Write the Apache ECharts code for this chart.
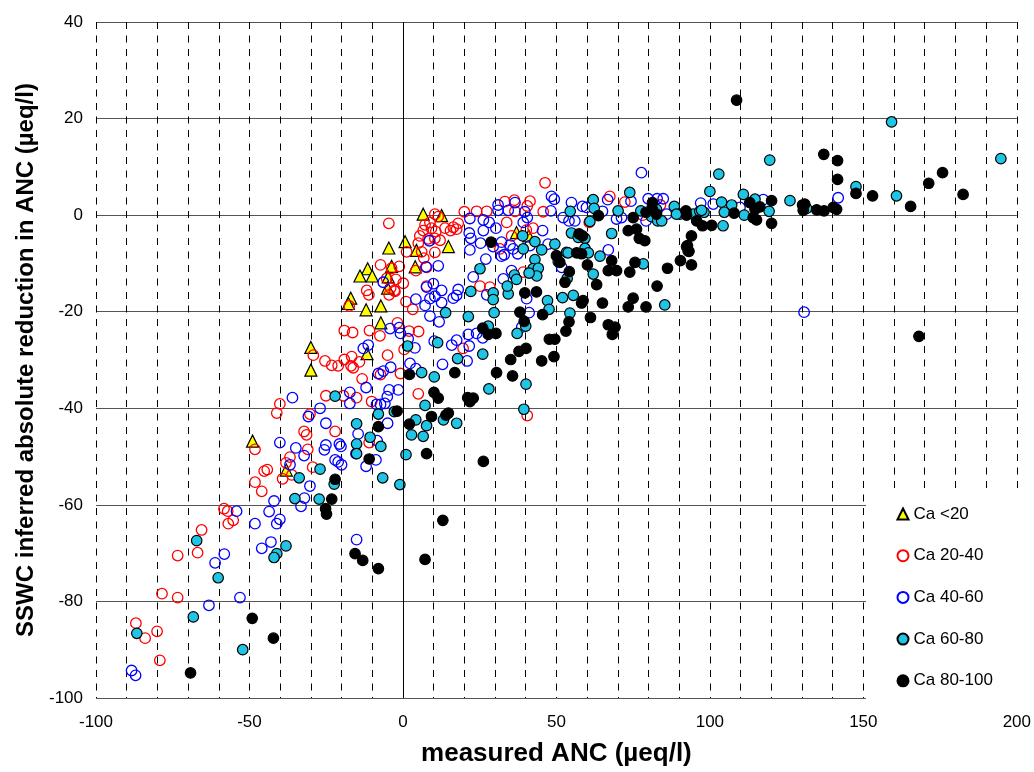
<!DOCTYPE html>
<html><head><meta charset="utf-8">
<script src="https://cdn.jsdelivr.net/npm/echarts@6/dist/echarts.min.js"></script>
<style>html,body{margin:0;padding:0;background:#fff}#c{width:1034px;height:772px}</style>
</head><body><div id="c"></div>
<script>
const seriesNames = ['Ca <20', 'Ca 20-40', 'Ca 40-60', 'Ca 60-80', 'Ca 80-100'];
const xTickLabels = [-100, -50, 0, 50, 100, 150, 200];
const xTitle = 'measured ANC (µeq/l)';
const yTitle = 'SSWC inferred absolute reduction in ANC (µeq/l)';

const ca20 = [[6.6,0.2],[12.6,-0.1],[0.7,-5.5],[-4.6,-6.8],[4.4,-7.3],[14.8,-6.5],[-3.7,-10.6],[4,-10.7],[-11.5,-11.1],[-14,-12.6],[-10,-12.6],[-4.8,-12.8],[-5,-15.1],[-17,-17.2],[-17.8,-18.3],[-12,-19.6],[-7.2,-18.8],[-7.2,-22.3],[-11.7,-28.7],[-30,-27.4],[-30,-32.1],[-38,-52.8],[-49,-46.8],[37,-3.6],[41,-4.3]];

const ca40 = [[-48.2,-55.3],[-46,-57.2],[-39.2,-54.6],[-58.3,-60.8],[-57.1,-61.3],[-55.3,-63.2],[-56.9,-63.9],[-65.6,-65.2],[-66.9,-69.9],[-73.4,-70.5],[-78.5,-78.4],[-73.4,-79.2],[-87,-84.5],[-84,-87.6],[-80.1,-86.2],[-79.2,-92.2],
[-29.2,-29],[-40.1,-39.1],[-41.1,-41],[-30.3,-41.2],[-32.2,-44.8],[-31.4,-45.5],[-48.2,-48.5],[-31,-48.5],[-36.8,-50.1],[-38.1,-51.3],[-29.4,-52.2],[-45.2,-53],[-44.2,-52.7],[-36.2,-53.8],
[-17.5,-18.8],[-2.6,-15.8],[1,-17.9],[3.2,-19.5],[-19.1,-23.9],[-16.4,-24.3],[-10.9,-23.9],[-7.5,-25],[-1.8,-22.3],[2,-24],[5.1,-24.1],[0.4,-27.8],[-25.4,-30.2],[-23.2,-31.1],[-21.1,-31.2],[-19.1,-29.9],[-16.7,-29.3],[-16.9,-31.2],[-16.2,-31.6],[-14.2,-30.4],[-5,-29],[-13.3,-33.9],[-7.3,-33],[-0.8,-32.8],[-25.1,-37.4],[-19.4,-37.4],[-15.1,-37.8],[-10.2,-38.6],[5,-37],[-22.1,-44.8],
[-4.6,-1.7],[5.5,-4.3],[1.2,-7.6],[5,-5.8],[6.1,-7.6],[-7.3,-10.3],[-3.7,-11],[-1.2,-10.6],[4.2,-11.5],[-5.3,-13.1],[-2.3,-13.3],[-4,-15.1],[-2.8,-15.6],[0.1,-14.1],[-11.8,-15.6],[-11.1,-16.5],[-4.5,-16.5],
[46.3,6.7],[10.4,0.2],[11.5,-0.3],[20,0.7],[24,0.8],[27.3,0.8],[33.2,2.8],[36.3,3.1],[36.5,0.8],[41.4,2.9],[40.5,1.9],[45.7,0.7],[33.8,-1.5],[7.2,-2],[8.8,-1.5],[6.6,-3.2],[9.3,-2.7],[10.7,-3.4],[8.2,-4.9],[10.4,-4.8],[12.1,-5.2],[13.7,-2.7],[15.5,-3.2],[16.4,-2.5],[18,-1.7],[17.5,-2.9],[40.2,-3.1],[42.4,-2.7],[35.4,-4.3],[10.4,-7.7],[6.8,-8.9],[7.7,-10.8],[31.6,-7],[39.2,-11.8],[7.7,-14.7],[25.1,-14.7],[28.3,-14.9],
[67.4,3.9],[72.3,2.7],[60.7,-1.5],[83.9,2.1],[78.1,0],[19.6,-27.6],[40.5,-41.5],[-11,-47.1]];

const ca60 = [[-30.3,-56.1],[-54.2,-61.3],[-42,-59.2],[-32.1,-58.6],[-33.2,-60.3],[-43.6,-61.4],[-48.2,-63.9],[-40.1,-63],[-41.1,-63.9],[-43,-67.7],[-46,-69],[-58.2,-70.2],[-61.2,-72],[-15.1,-67.2],[-63.2,-80.8],[-53.1,-79.2],[-88.4,-94.3],[-87.1,-95.3],
[-36,-37.8],[-30.8,-41.7],[-40.1,-47.1],[-34.9,-48.2],[-32.2,-49.8],[-36.8,-51.7],[-27,-40],
[4.2,-17.4],[7.2,-18.7],[10.4,-16.8],[12.6,-18.1],[8.8,-20.9],[11.8,-22.1],[16.4,-17.2],[17.5,-16.6],[-4.2,-23.5],[-1.2,-23.3],[-0.8,-24.5],[-12.9,-27.6],[-11.3,-26.9],[1.7,-25.6],[3.9,-27.5],[10.2,-26.1],[15.9,-26.9],[17.5,-25.9],[12.9,-30.9],[2.3,-30.7],[4.2,-31.8],[-8,-32.8],[-6.4,-32.3],[-4,-31.5],[-12,-35.7],[-17.3,-36.7],[-17.3,-39],[-4.5,-36.2],[-1.5,-36.2],[-5.1,-37.6],[-8.6,-39.2],[-7.3,-39.2],[-5.9,-39],[-25.1,-43.1],[-5,-43.1],[-14.6,-45.3],
[12.6,-15.6],[27.3,-16.5],[40.3,-17.3],[41.1,-20.2],[38.7,-23.2],[21.3,-24.7],[24,-24.5],[26,-25.4],[21.6,-27.1],[20.9,-30.2],
[8.6,-5.3],[7.5,-10.7],[-6.4,-13.9],[7.7,-14.9],[8.8,-17.3],
[31,2.1],[36.5,2.6],[48.4,3.9],[49.3,3.3],[48.2,0.9],[31,1],[34.3,1],[39.7,0.7],[21.8,-0.7],[26.2,-1],[28.1,-1.5],[30.3,-2.7],[39.2,-1.5],[40.5,-0.5],[45.5,-3.2],[21.6,-3.7],[22.1,-4.8],[26.2,-3.2],[29.4,-6.5],[32.1,-5.6],[34.9,-6.2],[35.9,-7],[41.4,-6.3],[47.3,-6],[21.8,-7.2],[25.3,-5.8],[27,-9.1],[32.1,-8.5],[33,-8.2],[37.4,-8],[11.5,-10.5],[9.9,-14.2],[18,-15.4],[32.7,-13.2],[35.4,-11.5],[22.9,-12.8],
[54.9,2.6],[58.5,1.8],[59.8,1.6],[65,0.8],[66.7,3.2],[74.3,2.9],[79.9,3.4],[82.8,3.4],[84.8,3.4],[52.2,-0.5],[54.1,-1.2],[56,-1.2],[69.6,-0.8],[71.2,-0.5],[79.2,-1.2],[85.9,0.2],[97,2.5],[101.1,2.3],[66.9,-7.2],[51.7,-10.8],
[141.8,3.6],[130.7,-20.1],[109.8,1.6],[117.4,3.2],[77.7,8.8],
[-25.1,-47.6],[-25.6,-48.6],[-20.7,-47.4],[-20.2,-47.9],[-15.3,-49.4],[-22.1,-50.7],[-21.1,-51.1],[-20,-51.7],[-12,-52],[-8.8,-50.7],[-8.4,-46.7]];

const ca80 = [[-33.8,-54.4],[-35.2,-58.7],[-27.3,-58.8],[-22.4,-55.7],[-6.6,-54.4],[-1,-55.8],[-67.2,-67.4],[-60.2,-75.1],[-41.1,-70.1],[-42,-70.9],[-38.1,-68.5],[-68.3,-83.2],[-86.7,-86.6],[-52.2,-90],
[-15.1,-47.4],[-15.1,-49.4],[-7.2,-47.9],[1,-49.6],[-27,-52.6],
[13.9,-20.2],[1.5,-27.1],[11.3,-26.4],[6.1,-32.6],[10.2,-33.5],[17.8,-29.7],[-22.1,-37.5],[7.2,-39.4],[-8,-41.2],[-2.8,-40.7],[-15.1,-43.2],[4.2,-42.4],[7.7,-43.6],[2.8,-45.5],[6.6,-45.8],[13.2,-42.4],[17.5,-43.1],[-10.7,-46],
[22.1,-15.8],[29.4,-16.1],[29.4,-17.5],[34.3,-16.3],[21.3,-21],[29.7,-20.2],[47.1,-17.7],[47.6,-19.5],[52,-17.1],[55.5,-16.6],[54.4,-20.3],[37.2,-24.5],[40,-23],[27.8,-23],[26,-28.8],[28,-36],[40.1,-35],[39.4,-40.2],
[39,-4.3],[43,-5.5],[45.2,-7.2],[49.5,-6],[39.2,-7],[53.3,-7.7],[43,-9.2],[50.6,-9.6],[42.4,-11.1],[44.1,-11],[43.6,-12.6],[25.1,-11.1],[36.3,-12.4],[37,-13.3],[41.1,-12],[34,-14.7],
[73.9,4.7],[100,4.9],[62,3.2],[62.3,1.4],[54.5,0.8],[60.9,-1.3],[70.1,0.9],[77.5,0.9],[81.3,1.9],[82.6,1.2],[81,-0.3],[83,-1.2],[84.3,-1.2],[88.4,1.8],[90.2,0.2],[92.4,0.2],[94.6,0.2],[96.7,0.8],[98.1,0.6],[54.9,-3.7],[57.1,-4.6],[59.3,-4.8],[68,-3.8],[59.3,-6.9],[53.8,-7.8],[60.4,-7.8],[64.2,-8.5],[92.4,-6.5],[92.9,-7.4],[78.3,-10.1],[62,-12.2],[85.3,-18.6],[53.5,-13.1],
[159.2,19.3],[194.8,11.7],[119.5,11.4],[102.9,8.5],[147.6,5.9],[160.8,4],[110.9,4.3],[103.8,2.7],[107.1,2.1],[97.3,1],[104.7,0.6],[111.2,0],[119.3,0.8],[114.7,3.3],[104.3,-2.2],[89.1,0.2],[126.1,3],[131.5,1.4]];

const ca100 = [[-22.1,-54.7],[-23.2,-58.8],[-25.2,-60.8],[-24.9,-61.9],[-15.6,-70.1],[-13.1,-71.5],[-8,-73.2],[-49.1,-83.5],[-42.2,-87.6],[-69.2,-94.8],[13,-63.2],[7.2,-71.3],
[2.1,-33],[16.9,-32.6],[10.1,-36.7],[11.5,-37.9],[-1.9,-40.6],[9.3,-41.7],[14,-41.4],[14.8,-41],[-8,-43.8],[2.1,-43.3],[-11,-50.5],[7.7,-49.4],
[39.7,-16.1],[43.5,-15.9],[38.1,-20.1],[39.5,-22],[45.5,-20.6],[58.7,-17.7],[58.2,-18.2],[65,-18.2],[73.4,-19],[75,-17.2],[61.1,-21.2],[54.1,-22.1],[53.1,-24],[66.9,-22.7],[69.1,-23.2],[68.2,-24.7],[26,-23.4],[27.8,-24.7],[30.3,-24.5],[47.7,-25.7],[49.5,-25.7],[37.8,-28.2],[40.1,-27.6],[35.1,-29.9],[45.2,-30.2],[49.2,-29.3],[30.5,-32.6],[35.7,-33.3],[21.1,-37.8],[22.9,-37.9],[21.8,-38.6],[26.2,-51],
[28.7,-5.6],[50,-8.4],[51.1,-9.8],[52.8,-13.9],
[81.3,2.6],[81.3,1.2],[63.7,-0.1],[75,-0.5],[79.2,0.6],[82.6,0.2],[92.2,0.9],[95.7,-1.2],[97.6,-2.2],[100.6,-2.1],[73.4,-3.2],[76.1,-2.9],[77,-4.8],[78.8,-5.3],[57.4,-3.9],[58.5,-4.3],[56.6,-7.8],[58.2,-8],[94,-4.3],[60.1,-10.3],[68,-9.4],[66.9,-11.5],[69.6,-11.5],[75.6,-9.8],[73.9,-11.8],[86.2,-11],[90.4,-9.4],[94,-10.3],[54.2,-11.7],[63.1,-14.4],[82.8,-14.7],[79.2,-19],
[108.7,23.8],[137.1,12.6],[141.6,11.3],[141.6,7.4],[147.6,4.5],[153,4],[165.4,1.8],[171.3,6.6],[175.8,8.8],[182.5,4.3],[168.1,-25.1],[130.2,2.1],[130.9,2.3],[130.4,1],[134.8,1.1],[137.2,0.9],[140.2,1.6],[141.3,1.2],[120.1,3],[120.1,-1.7],[114.7,1.2],[115.2,-1],[114.1,-0.5],[116.3,1.7],[113,2.6],[107.9,0.4],[92.4,0],[92.7,-6.3],[93.2,-7.5]];

const FONT = 'Liberation Sans, Arial, sans-serif';
const chart = echarts.init(document.getElementById('c'), null, {renderer: 'canvas'});

function sc(name, data, symbol, size, fill, border, bw, extra) {
  return Object.assign({
    name: name, type: 'scatter', data: data, symbol: symbol, symbolSize: size,
    itemStyle: {color: fill, borderColor: border, borderWidth: bw, opacity: 1},
    emphasis: {disabled: true}, silent: true, animation: false
  }, extra || {});
}

chart.setOption({
  animation: false,
  backgroundColor: '#fff',
  grid: {left: 96, top: 22, right: 17, bottom: 71, containLabel: false, show: false},
  xAxis: {
    type: 'value', min: -100, max: 200, interval: 10,
    axisLine: {show: false, onZero: false}, axisTick: {show: false},
    axisLabel: {
      formatter: v => xTickLabels.indexOf(v) >= 0 ? String(v) : '',
      fontSize: 17, color: '#000', fontFamily: FONT, margin: 16
    },
    splitLine: {show: true, lineStyle: {color: '#000', width: 1, type: [7, 6.5]}},
    name: xTitle, nameLocation: 'middle', nameGap: 43,
    nameTextStyle: {fontSize: 26, fontWeight: 'bold', color: '#000', fontFamily: FONT}
  },
  yAxis: {
    type: 'value', min: -100, max: 40, interval: 20,
    axisLine: {show: false, onZero: false}, axisTick: {show: false},
    axisLabel: {fontSize: 17, color: '#000', fontFamily: FONT, margin: 13},
    splitLine: {show: true, lineStyle: {color: '#555', width: 1, type: 'solid'}},
    name: yTitle, nameLocation: 'middle', nameGap: 54,
    nameTextStyle: {fontSize: 24, fontWeight: 'bold', color: '#000', fontFamily: FONT}
  },
  legend: {
    orient: 'vertical', left: 866, top: 488,
    backgroundColor: '#fff',
    padding: [17.5, 26, 10, 30.5],
    itemGap: 24.7, itemWidth: 11, itemHeight: 11,
    selectedMode: false,
    textStyle: {fontSize: 17, color: '#000', fontFamily: FONT},
    data: [
      {name: seriesNames[0], icon: 'triangle'},
      {name: seriesNames[1], icon: 'circle'},
      {name: seriesNames[2], icon: 'circle'},
      {name: seriesNames[3], icon: 'circle'},
      {name: seriesNames[4], icon: 'circle'}
    ]
  },
  series: [
    sc(seriesNames[0], ca20, 'triangle', 12, '#ffff00', '#000', 1.2, {
      markLine: {
        silent: true, symbol: ['none', 'none'], animation: false,
        label: {show: false},
        lineStyle: {color: '#000', width: 1, type: 'solid'},
        data: [{xAxis: 0}]
      }
    }),
    sc(seriesNames[1], ca40, 'circle', 10.5, 'rgba(255,255,255,0)', '#ff0000', 1.3),
    sc(seriesNames[2], ca60, 'circle', 10.5, 'rgba(255,255,255,0)', '#0000ff', 1.3),
    sc(seriesNames[3], ca80, 'circle', 10.5, '#20c4e4', '#000', 1.2),
    sc(seriesNames[4], ca100, 'circle', 10.5, '#000', '#000', 1.2)
  ]
});
</script>
</body></html>
